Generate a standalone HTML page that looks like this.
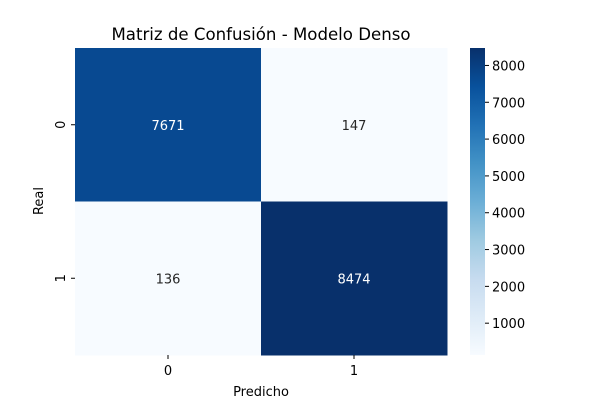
<!DOCTYPE html>
<html><head><meta charset="utf-8"><style>
body{margin:0;background:#fff;}
svg{font-family:"DejaVu Sans","Liberation Sans",sans-serif;}
</style></head><body>
<svg id="c" width="600" height="400" xmlns="http://www.w3.org/2000/svg">
<defs><linearGradient id="g" x1="0" y1="1" x2="0" y2="0"></linearGradient></defs>
<text x="261" y="40" text-anchor="middle" font-size="16.6" fill="#000">Matriz de Confusión - Modelo Denso</text>
<text x="261" y="396" text-anchor="middle" font-size="13">Predicho</text>
<text transform="translate(43,201) rotate(-90)" text-anchor="middle" font-size="13">Real</text>
</svg>
<script>
const classes=["0","1"];
const matrix=[[7671,147],[136,8474]];
const cbTicks=[1000,2000,3000,4000,5000,6000,7000,8000];
const svg=document.getElementById('c');
const NS='http://www.w3.org/2000/svg';
const X0=75,X1=447,Y0=48,Y1=355,CBX=470,CBW=15;
const vals=matrix.flat();const vmin=Math.min(...vals),vmax=Math.max(...vals);
const stops=[[247,251,255],[222,235,247],[198,219,239],[158,202,225],[107,174,214],[66,146,198],[33,113,181],[8,81,156],[8,48,107]];
function blues(t){t=Math.max(0,Math.min(1,t));const p=t*8,i=Math.min(7,Math.floor(p)),f=p-i;const a=stops[i],b=stops[i+1];return 'rgb('+a.map((v,k)=>Math.round(v+(b[k]-v)*f)).join(',')+')';}
function norm(v){return (v-vmin)/(vmax-vmin);}
function mk(tag,attrs){const e=document.createElementNS(NS,tag);for(const k in attrs)e.setAttribute(k,attrs[k]);svg.appendChild(e);return e;}
const n=classes.length,cw=(X1-X0)/n,ch=(Y1-Y0)/n;
matrix.forEach((row,r)=>row.forEach((v,c)=>{
 const t=norm(v);
 const rect=mk('rect',{x:X0+c*cw,y:Y0+r*ch,width:cw+0.5,height:ch+0.5,fill:blues(t)});
 
 
 const tx=mk('text',{x:X0+(c+.5)*cw,y:Y0+(r+.5)*ch+5,'text-anchor':'middle','font-size':13,fill:t>0.5?'#fff':'#262626'});
 tx.textContent=v;
 
 
}));
classes.forEach((l,i)=>{
 const x=X0+(i+.5)*cw;
 mk('line',{x1:x,x2:x,y1:Y1,y2:Y1+4,stroke:'#000'});
 const t=mk('text',{x:x,y:Y1+20,'text-anchor':'middle','font-size':13});t.textContent=l;
 
 
 const y=Y0+(i+.5)*ch;
 mk('line',{x1:X0-4,x2:X0,y1:y,y2:y,stroke:'#000'});
 const u=mk('text',{transform:'translate('+(X0-10)+','+y+') rotate(-90)','text-anchor':'middle','font-size':13});u.textContent=l;
 
 
});
const g=document.getElementById('g');
for(let i=0;i<=8;i++){const s=document.createElementNS(NS,'stop');s.setAttribute('offset',i/8);s.setAttribute('stop-color','rgb('+stops[i].join(',')+')');g.appendChild(s);}
const cb=mk('rect',{x:CBX,y:Y0,width:CBW,height:Y1-Y0,fill:'url(#g)'});


cbTicks.forEach(v=>{
 const y=Y1-norm(v)*(Y1-Y0);
 mk('line',{x1:CBX+CBW,x2:CBX+CBW+4,y1:y,y2:y,stroke:'#000'});
 const t=mk('text',{x:CBX+CBW+7,y:y+5,'font-size':13});t.textContent=v;
 
 
});
</script>
</body></html>
